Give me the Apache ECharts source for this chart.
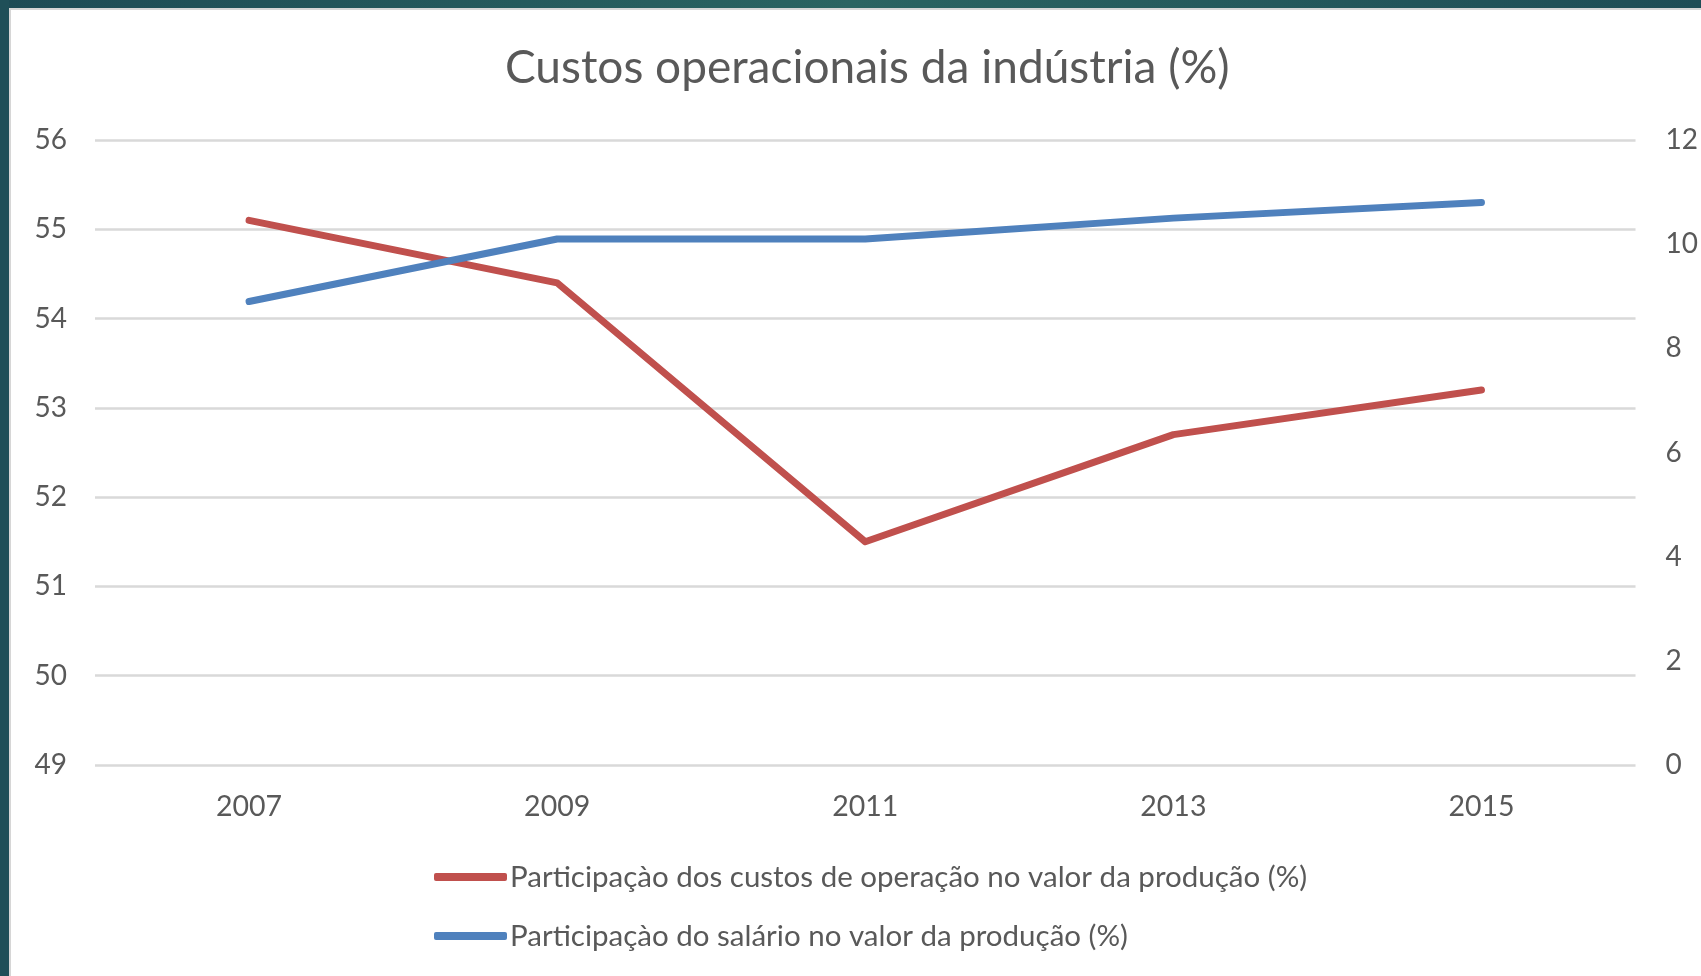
<!DOCTYPE html>
<html>
<head>
<meta charset="utf-8">
<title>Custos operacionais da indústria (%)</title>
<script src="https://cdn.jsdelivr.net/npm/echarts@6/dist/echarts.min.js"></script>
<style>
  html, body { margin: 0; padding: 0; background: #fff; }
  #chart { width: 1701px; height: 976px; }
</style>
</head>
<body>
<div id="chart"></div>
<script>
var anos = ['2007', '2009', '2011', '2013', '2015'];
var custosOperacao = [55.1, 54.4, 51.5, 52.7, 53.2];   // eixo esquerdo
var salario = [8.9, 10.1, 10.1, 10.5, 10.8];            // eixo direito
var nomeCustos = 'Participaçào dos custos de operação no valor da produção (%)';
var nomeSalario = 'Participaçào do salário no valor da produção (%)';

var fonte = 'Lato, "Open Sans", sans-serif';
var cinza = '#595959';

var option = {
    backgroundColor: '#ffffff',
    textStyle: { fontFamily: fonte },
    graphic: [
        // moldura escura do slide
        { type: 'rect', z: 100, shape: { x: 0, y: 0, width: 1701, height: 8 },
          style: { fill: new echarts.graphic.LinearGradient(0, 0, 1, 0, [
              { offset: 0, color: '#1d4b55' }, { offset: 0.5, color: '#2a6462' }, { offset: 1, color: '#1e4d56' }]) } },
        { type: 'rect', z: 100, shape: { x: 0, y: 0, width: 9, height: 976 },
          style: { fill: '#1f4f58' } },
        { type: 'rect', z: 100, shape: { x: 9, y: 8, width: 2, height: 968 }, style: { fill: '#d6d6d6' } },
        { type: 'rect', z: 100, shape: { x: 9, y: 8, width: 1692, height: 2 }, style: { fill: '#d6d6d6' } }
    ],
    title: {
        text: 'Custos operacionais da indústria (%)',
        left: 500,
        top: 40,
        textStyle: { fontFamily: fonte, fontSize: 46, fontWeight: 'normal', color: cinza }
    },
    legend: {
        orient: 'vertical',
        left: 429,
        top: 854,
        itemWidth: 73,
        itemHeight: 8,
        itemGap: 23,
        icon: 'roundRect',
        textStyle: { fontFamily: fonte, fontSize: 29.5, color: cinza, lineHeight: 36, padding: [0, 0, 0, -2] },
        data: [nomeCustos, nomeSalario]
    },
    grid: { left: 95, right: 63, top: 140, bottom: 211 },
    xAxis: {
        type: 'category',
        data: anos,
        boundaryGap: true,
        axisLine: { show: false },
        axisTick: { show: false },
        axisLabel: { fontFamily: fonte, fontSize: 28.5, color: cinza, margin: 27 }
    },
    yAxis: [
        {
            type: 'value', min: 49, max: 56, interval: 1, position: 'left',
            axisLine: { show: false }, axisTick: { show: false },
            axisLabel: { fontFamily: fonte, fontSize: 28, color: cinza, margin: 28 },
            splitLine: { lineStyle: { color: '#d9d9d9', width: 2.5 } }
        },
        {
            type: 'value', min: 0, max: 12, interval: 2, position: 'right',
            axisLine: { show: false }, axisTick: { show: false },
            axisLabel: { fontFamily: fonte, fontSize: 28, color: cinza, margin: 30 },
            splitLine: { show: false }
        }
    ],
    series: [
        {
            name: nomeCustos, type: 'line', yAxisIndex: 0, data: custosOperacao,
            symbol: 'none', color: '#c0504d',
            lineStyle: { width: 7, cap: 'round', join: 'round' }
        },
        {
            name: nomeSalario, type: 'line', yAxisIndex: 1, data: salario,
            symbol: 'none', color: '#4f81bd',
            lineStyle: { width: 7, cap: 'round', join: 'round' }
        }
    ]
};

var chart = echarts.init(document.getElementById('chart'));
chart.setOption(option);
window.onresize = function () { chart.resize(); };
</script>
</body>
</html>
